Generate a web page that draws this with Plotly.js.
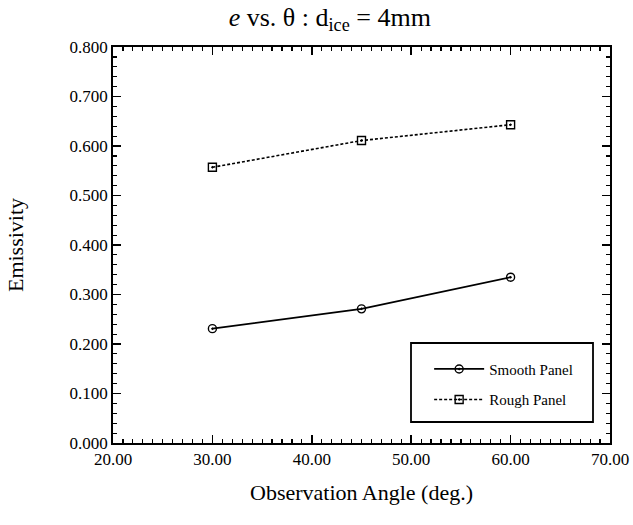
<!DOCTYPE html>
<html><head><meta charset="utf-8">
<script src="https://cdn.plot.ly/plotly-3.0.1.min.js"></script>
<style>html,body{margin:0;padding:0;background:#fff}</style>
</head><body>
<div id="chart" style="width:633px;height:525px"></div>
<script>
const angles = [30, 45, 60];
const smoothPanel = [0.231, 0.271, 0.335];
const roughPanel = [0.557, 0.611, 0.643];
const seriesNames = ["Smooth Panel", "Rough Panel"];

const serif = "Liberation Serif, Times New Roman, serif";
const pad = "\u00a0\u00a0";
const traces = [
  {x: angles, y: smoothPanel, name: seriesNames[0] + pad, legendgroup: "a", type: "scatter", mode: "lines+markers",
   line: {color: "#000", width: 1.8, dash: "solid"},
   marker: {symbol: "circle-open-dot", size: 8, color: "#000", line: {width: 1.4, color: "#000"}}},
  {x: angles, y: roughPanel, name: seriesNames[1] + pad, legendgroup: "b", type: "scatter", mode: "lines+markers",
   line: {color: "#000", width: 1.6, dash: "3px,2px"},
   marker: {symbol: "square-open-dot", size: 8, color: "#000", line: {width: 1.4, color: "#000"}}}
];
const axisCommon = {
  showgrid: false, zeroline: false, showline: true, linecolor: "#000", linewidth: 1.8,
  mirror: "ticks", ticks: "inside", ticklen: 8, tickwidth: 1.5, tickcolor: "#000",
  tickfont: {family: serif, size: 17, color: "#000"}
};
const layout = {
  width: 633, height: 525,
  margin: {l: 113, r: 23, t: 47, b: 82},
  paper_bgcolor: "#fff", plot_bgcolor: "#fff",
  title: {text: "<i>e</i> vs. θ : d<sub>ice</sub> = 4mm", x: 0.521, xanchor: "center", y: 0.968, yanchor: "middle",
          font: {family: serif, size: 26, color: "#000"}},
  xaxis: Object.assign({}, axisCommon, {
    range: [20, 70], dtick: 10, tick0: 20, tickformat: ".2f",
    minor: {dtick: 1, ticks: "inside", ticklen: 4, tickwidth: 1.2, tickcolor: "#000"},
    title: {text: "Observation Angle (deg.)", font: {family: serif, size: 22, color: "#000"}, standoff: 16}
  }),
  yaxis: Object.assign({}, axisCommon, {
    range: [0, 0.8], dtick: 0.1, tick0: 0, tickformat: ".3f",
    minor: {dtick: 0.02, ticks: "inside", ticklen: 4, tickwidth: 1.2, tickcolor: "#000"},
    title: {text: "Emissivity", font: {family: serif, size: 22, color: "#000"}, standoff: 40}
  }),
  showlegend: true,
  legend: {x: 0.952, xanchor: "right", y: 0.228, yanchor: "top", bgcolor: "rgba(0,0,0,0)",
           borderwidth: 0,
           font: {family: serif, size: 15, color: "#000"}, tracegroupgap: 8, itemwidth: 50},
  shapes: [{type: "rect", xref: "paper", yref: "paper", x0: 0.5996, x1: 0.9658, y0: 0.053, y1: 0.2525,
            line: {color: "#000", width: 1.8}, fillcolor: "#fff", layer: "above"}]
};
Plotly.newPlot("chart", traces, layout, {displayModeBar: false, staticPlot: true});
</script>
</body></html>
